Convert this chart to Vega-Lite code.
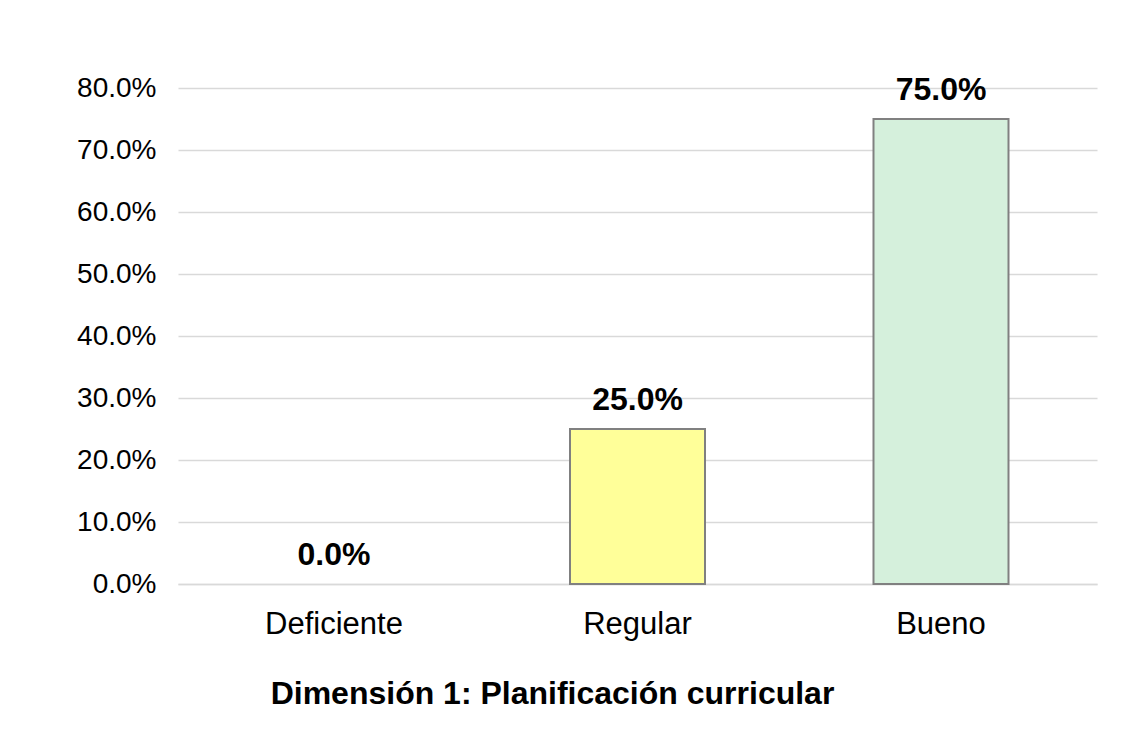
{
  "$schema": "https://vega.github.io/schema/vega-lite/v6.json",
  "autosize": {"type": "none"},
  "width": 919,
  "height": 496,
  "padding": {"left": 178, "top": 88, "right": 40, "bottom": 148},
  "background": "white",
  "config": {
    "font": "Liberation Sans",
    "view": {"stroke": null}
  },
  "title": {
    "text": "Dimensión 1: Planificación curricular",
    "orient": "bottom",
    "anchor": "middle",
    "dx": -85,
    "offset": 40,
    "fontSize": 32,
    "fontWeight": "bold",
    "color": "#000000",
    "font": "Liberation Sans"
  },
  "data": {
    "values": [
      {"categoria": "Deficiente", "porcentaje": 0.0},
      {"categoria": "Regular", "porcentaje": 0.25},
      {"categoria": "Bueno", "porcentaje": 0.75}
    ]
  },
  "encoding": {
    "x": {
      "field": "categoria",
      "type": "nominal",
      "sort": ["Deficiente", "Regular", "Bueno"],
      "scale": {"paddingInner": 0, "paddingOuter": 0.014},
      "axis": {
        "title": null,
        "labelAngle": 0,
        "labelFontSize": 31,
        "labelColor": "#000000",
        "labelPadding": 25,
        "ticks": false,
        "domainColor": "#d9d9d9",
        "domainWidth": 1.5
      }
    },
    "y": {
      "field": "porcentaje",
      "type": "quantitative",
      "scale": {"domain": [0, 0.8]},
      "axis": {
        "title": null,
        "format": ".1%",
        "values": [0, 0.1, 0.2, 0.3, 0.4, 0.5, 0.6, 0.7, 0.8],
        "labelFontSize": 28,
        "labelColor": "#000000",
        "labelPadding": 22,
        "ticks": false,
        "domain": false,
        "gridColor": "#d9d9d9",
        "gridWidth": 1.5
      }
    }
  },
  "layer": [
    {
      "mark": {"type": "bar", "size": 135, "stroke": "#808080", "strokeWidth": 2},
      "encoding": {
        "color": {
          "field": "categoria",
          "type": "nominal",
          "scale": {"domain": ["Deficiente", "Regular", "Bueno"], "range": ["#C6D9F1", "#FFFF99", "#D5F0DC"]},
          "legend": null
        },
        "strokeOpacity": {
          "condition": {"test": "datum.porcentaje == 0", "value": 0},
          "value": 1
        }
      }
    },
    {
      "mark": {"type": "text", "fontSize": 32, "fontWeight": "bold", "baseline": "alphabetic", "dy": -19, "color": "#000000"},
      "encoding": {
        "text": {"field": "porcentaje", "type": "quantitative", "format": ".1%"}
      }
    }
  ]
}
